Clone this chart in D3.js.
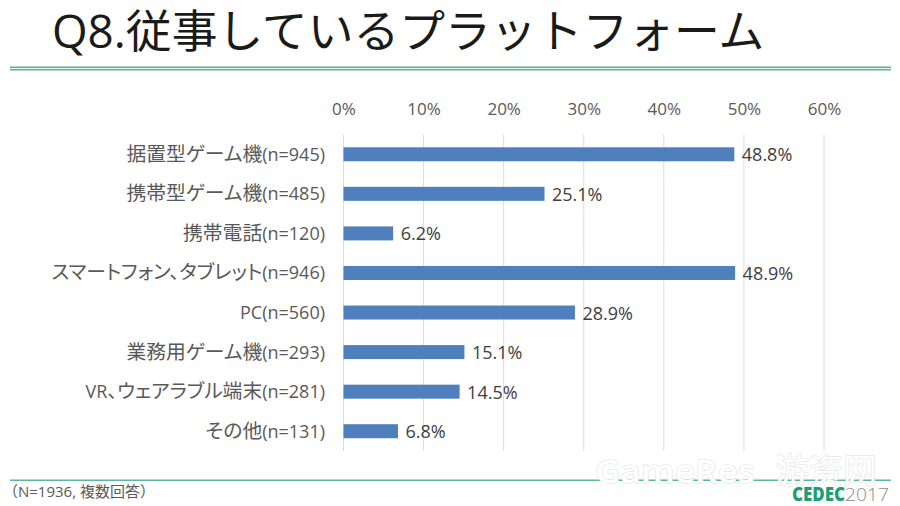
<!doctype html>
<html lang="ja">
<head>
  <meta charset="UTF-8">
  <title>Q8</title>
  <script src="https://cdn.jsdelivr.net/npm/d3@7"></script>
  <style>
    html, body { margin: 0; padding: 0; background: #fff; }
    text { font-family: "Open Sans", "Noto Sans CJK JP", sans-serif; }
    .cjk { font-family: "Noto Sans CJK JP", sans-serif; font-feature-settings: "palt"; }
  </style>
</head>
<body>
<div id="container"></div>
<script type="text/javascript">
var titleText = 'Q8.従事しているプラットフォーム';
var noteText = '（N=1936, 複数回答）';
var categories = [
  '据置型ゲーム機(n=945)',
  '携帯型ゲーム機(n=485)',
  '携帯電話(n=120)',
  'スマートフォン、タブレット(n=946)',
  'PC(n=560)',
  '業務用ゲーム機(n=293)',
  'VR、ウェアラブル端末(n=281)',
  'その他(n=131)'
];
var values = [48.8, 25.1, 6.2, 48.9, 28.9, 15.1, 14.5, 6.8];
var ticks = [0, 10, 20, 30, 40, 50, 60];

var svg = d3.select('#container').append('svg')
  .attr('width', 900)
  .attr('height', 506)
  .style('display', 'block');

var x = d3.scaleLinear().domain([0, 60]).range([343.5, 824]);
var y = d3.scaleBand().domain(categories).range([134.5, 451]);
var barHeight = 14;

// splits a label in CJK and latin runs, they have different sizes
function splitRuns(s) {
  return s.split(/([\u3000-\u9fff\uff00-\uffef]+)/).filter(function(r) { return r.length > 0; });
}
function isCjk(r) {
  return /[\u3000-\u9fff\uff00-\uffef]/.test(r);
}

// title and rules
svg.append('text')
  .attr('x', 52).attr('y', 48)
  .attr('font-size', 45.8)
  .attr('fill', '#1a1a1a')
  .text(titleText);

svg.append('rect').attr('x', 10).attr('y', 66.5).attr('width', 881).attr('height', 4).attr('fill', '#5bb5a0');
svg.append('rect').attr('x', 10).attr('y', 68).attr('width', 881).attr('height', 1).attr('fill', '#e8f5f1');
svg.append('rect').attr('x', 10).attr('y', 479.5).attr('width', 881).attr('height', 1.5).attr('fill', '#5bb5a0');

// grid
svg.append('g').selectAll('line').data(ticks).enter().append('line')
  .attr('x1', function(d) { return x(d); })
  .attr('x2', function(d) { return x(d); })
  .attr('y1', y.range()[0])
  .attr('y2', y.range()[1])
  .attr('stroke', '#dcdcdc')
  .attr('stroke-width', 1);

// top axis labels
var axis = d3.axisTop(x).tickValues(ticks).tickSize(0).tickPadding(0)
  .tickFormat(function(d) { return d + '%'; });
var axisG = svg.append('g').attr('transform', 'translate(0,115)').call(axis);
axisG.select('.domain').remove();
axisG.selectAll('text')
  .attr('font-size', 17)
  .attr('fill', '#595959')
  .style('font-family', '"Open Sans", "Noto Sans CJK JP", sans-serif');

// bars
svg.append('g').selectAll('rect').data(values).enter().append('rect')
  .attr('x', x(0))
  .attr('y', function(d, i) { return y(categories[i]) + y.bandwidth() / 2 - barHeight / 2; })
  .attr('width', function(d) { return x(d) - x(0); })
  .attr('height', barHeight)
  .attr('fill', '#4f7fbc');

// value labels
svg.append('g').selectAll('text').data(values).enter().append('text')
  .attr('x', function(d) { return x(d) + 7.5; })
  .attr('y', function(d, i) { return y(categories[i]) + y.bandwidth() / 2 + 7; })
  .attr('font-size', 18)
  .attr('fill', '#404040')
  .text(function(d) { return d.toFixed(1) + '%'; });

// category labels
svg.append('g').selectAll('text').data(categories).enter().append('text')
  .attr('x', 325)
  .attr('y', function(d) { return y(d) + y.bandwidth() / 2 + 6.5; })
  .attr('text-anchor', 'end')
  .attr('fill', '#595959')
  .each(function(d) {
    var t = d3.select(this);
    splitRuns(d).forEach(function(r) {
      t.append('tspan')
        .attr('class', isCjk(r) ? 'cjk' : null)
        .attr('font-size', isCjk(r) ? 19.8 : 18)
        .text(r);
    });
  });

// footnote
svg.append('text')
  .attr('x', 3).attr('y', 497)
  .attr('font-size', 15)
  .attr('fill', '#595959')
  .text(noteText);

// watermark
var mark = svg.append('g').attr('fill', '#fff')
  .attr('stroke', '#dedede').attr('stroke-width', 1).attr('paint-order', 'stroke');
mark.append('text').attr('x', 595).attr('y', 483).attr('font-size', 33).attr('font-weight', 600)
  .attr('textLength', 160).attr('lengthAdjust', 'spacingAndGlyphs').text('GameRes');
mark.append('text').attr('x', 775).attr('y', 483).attr('font-size', 34).text('游资网');

// logo
svg.append('text')
  .attr('x', 792).attr('y', 501)
  .attr('font-size', 19).attr('font-weight', 800)
  .attr('fill', '#1f9e74').attr('textLength', 53)
  .attr('lengthAdjust', 'spacingAndGlyphs')
  .text('CEDEC');
svg.append('text')
  .attr('x', 845).attr('y', 501)
  .attr('font-size', 19).attr('font-weight', 300)
  .attr('fill', '#8a8a8a').attr('textLength', 44)
  .attr('lengthAdjust', 'spacingAndGlyphs')
  .text('2017');
</script>
</body>
</html>
